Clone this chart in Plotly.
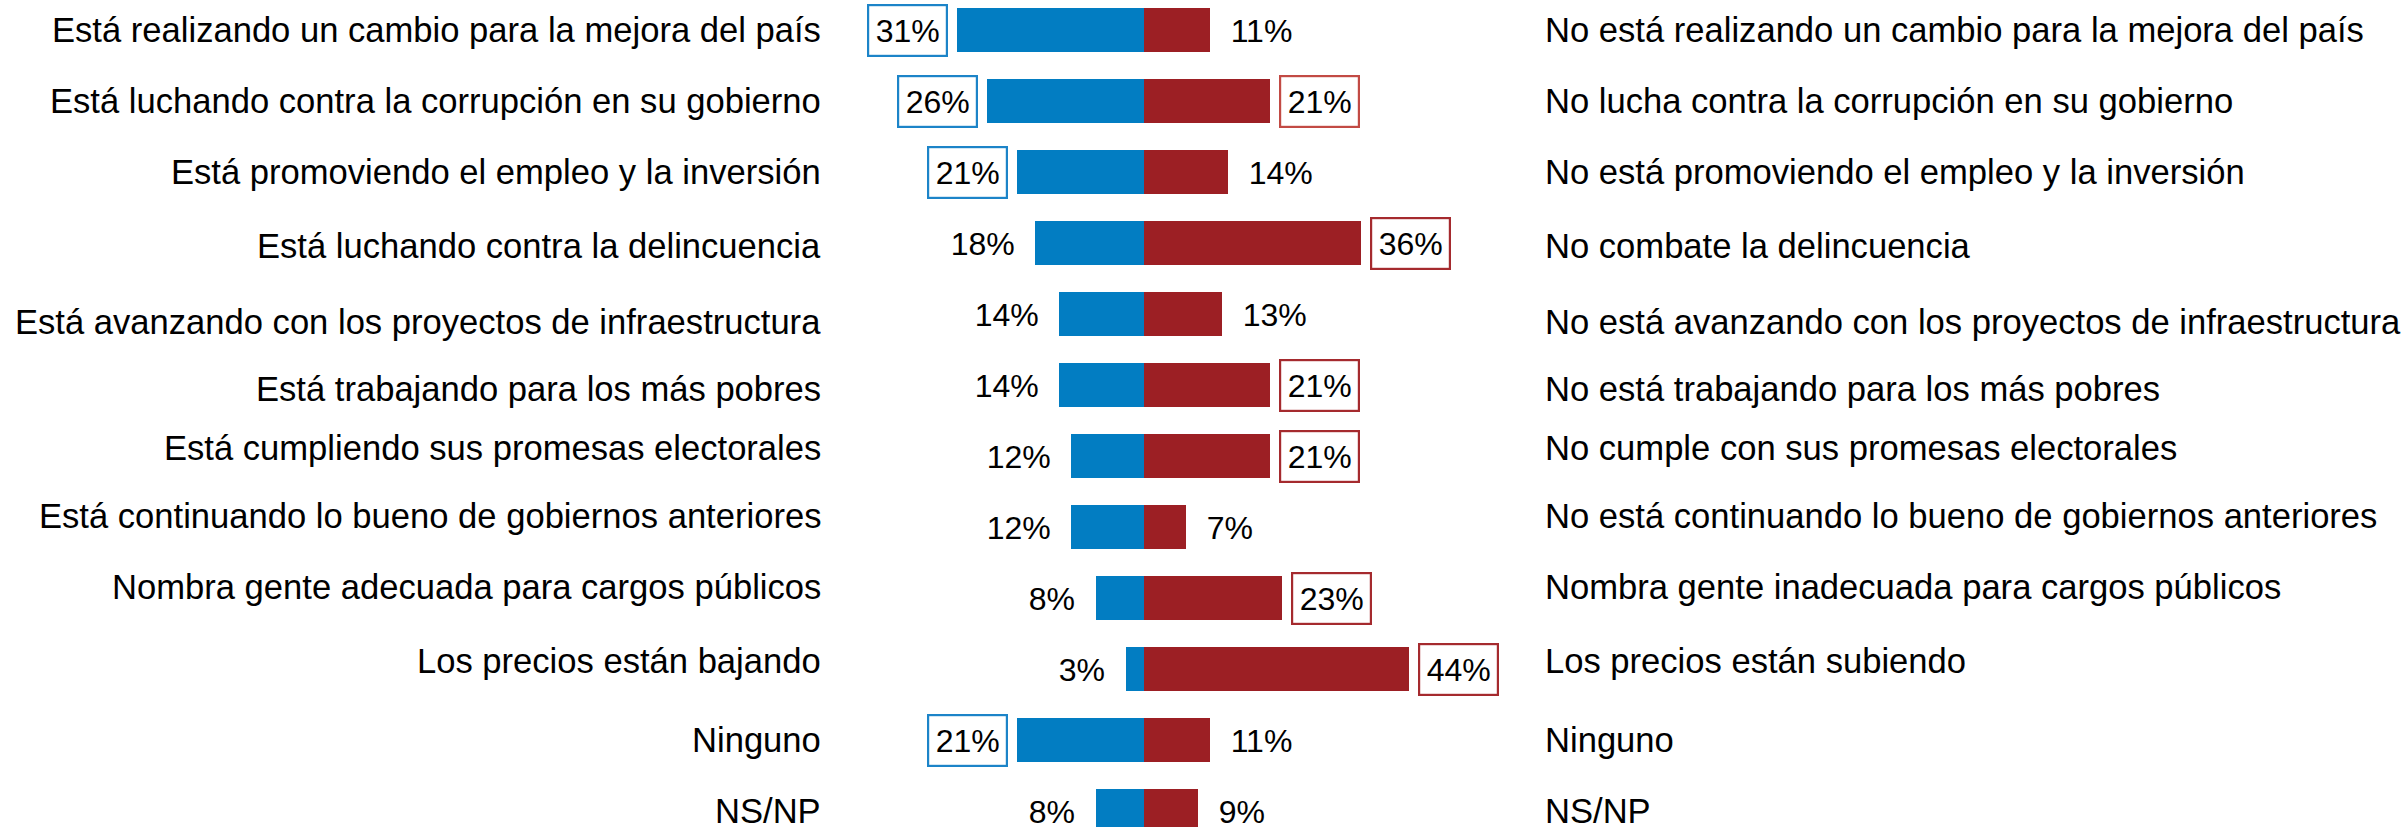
import plotly.graph_objects as go

left_labels = [
    "Está realizando un cambio para la mejora del país",
    "Está luchando contra la corrupción en su gobierno",
    "Está promoviendo el empleo y la inversión",
    "Está luchando contra la delincuencia",
    "Está avanzando con los proyectos de infraestructura",
    "Está trabajando para los más pobres",
    "Está cumpliendo sus promesas electorales",
    "Está continuando lo bueno de gobiernos anteriores",
    "Nombra gente adecuada para cargos públicos",
    "Los precios están bajando",
    "Ninguno",
    "NS/NP",
]
right_labels = [
    "No está realizando un cambio para la mejora del país",
    "No lucha contra la corrupción en su gobierno",
    "No está promoviendo el empleo y la inversión",
    "No combate la delincuencia",
    "No está avanzando con los proyectos de infraestructura",
    "No está trabajando para los más pobres",
    "No cumple con sus promesas electorales",
    "No está continuando lo bueno de gobiernos anteriores",
    "Nombra gente inadecuada para cargos públicos",
    "Los precios están subiendo",
    "Ninguno",
    "NS/NP",
]
positive = [31, 26, 21, 18, 14, 14, 12, 12, 8, 3, 21, 8]
negative = [11, 21, 14, 36, 13, 21, 21, 7, 23, 44, 11, 9]
positive_boxed = [True, True, True, False, False, False, False, False, False, False, True, False]
negative_boxed = [False, True, False, True, False, True, True, False, True, True, False, False]

# style: small vertical offsets (px, positive = up) of the side labels, as in the original slide
label_yshift = [0, 0, 0, -3, -8, -4, 8, 11, 11, 8, 0, 0]

BLUE = "#027DC2"
RED = "#9C1F24"
BLUE_BORDER = "#1C84C8"
RED_BORDER = "#A52A2E"
RED_BORDER_ALT = "#C24A44"
FONT = "Liberation Sans, Arial, sans-serif"
LABEL_SIZE = 34.6
VALUE_SIZE = 32
PAD = 6.5
BW = 2.2

rows = list(range(len(left_labels)))

fig = go.Figure()
fig.add_trace(go.Bar(
    y=rows, x=[-v for v in positive], orientation="h",
    marker=dict(color=BLUE, line=dict(width=0)), width=0.62, showlegend=False,
))
fig.add_trace(go.Bar(
    y=rows, x=negative, orientation="h",
    marker=dict(color=RED, line=dict(width=0)), width=0.62, showlegend=False,
))

annotations = []
for i in rows:
    annotations.append(dict(
        x=0.3420, xref="paper", y=i, yref="y", text=left_labels[i],
        xanchor="right", yanchor="middle", showarrow=False, yshift=label_yshift[i],
        font=dict(family=FONT, size=LABEL_SIZE, color="#000000"),
    ))
    annotations.append(dict(
        x=0.6410, xref="paper", y=i, yref="y", text=right_labels[i],
        xanchor="left", yanchor="middle", showarrow=False, yshift=label_yshift[i],
        font=dict(family=FONT, size=LABEL_SIZE, color="#000000"),
    ))
    pb = positive_boxed[i]
    annotations.append(dict(
        x=-positive[i], xref="x", y=i, yref="y", text=f"{positive[i]}%",
        xanchor="right", yanchor="middle", showarrow=False, xshift=-9 if pb else -12,
        font=dict(family=FONT, size=VALUE_SIZE, color="#000000"),
        bordercolor=BLUE_BORDER if pb else "rgba(0,0,0,0)",
        borderwidth=BW, borderpad=PAD, bgcolor="white" if pb else "rgba(0,0,0,0)",
    ))
    nb = negative_boxed[i]
    annotations.append(dict(
        x=negative[i], xref="x", y=i, yref="y", text=f"{negative[i]}%",
        xanchor="left", yanchor="middle", showarrow=False, xshift=9 if nb else 12,
        font=dict(family=FONT, size=VALUE_SIZE, color="#000000"),
        bordercolor=(RED_BORDER_ALT if i == 1 else RED_BORDER) if nb else "rgba(0,0,0,0)",
        borderwidth=BW, borderpad=PAD, bgcolor="white" if nb else "rgba(0,0,0,0)",
    ))

fig.update_layout(
    width=2407, height=827,
    margin=dict(l=0, r=0, t=0, b=0, pad=0),
    paper_bgcolor="white", plot_bgcolor="white",
    barmode="relative", bargap=0,
    annotations=annotations,
    xaxis=dict(range=[-189.7, 209.5], visible=False, fixedrange=True),
    yaxis=dict(range=[11.225, -0.4225], visible=False, fixedrange=True),
    font=dict(family=FONT),
)

fig.write_html(
    "out.html",
    config={"displayModeBar": False},
    post_script="document.body.style.margin='0';document.body.style.overflow='hidden';",
)
